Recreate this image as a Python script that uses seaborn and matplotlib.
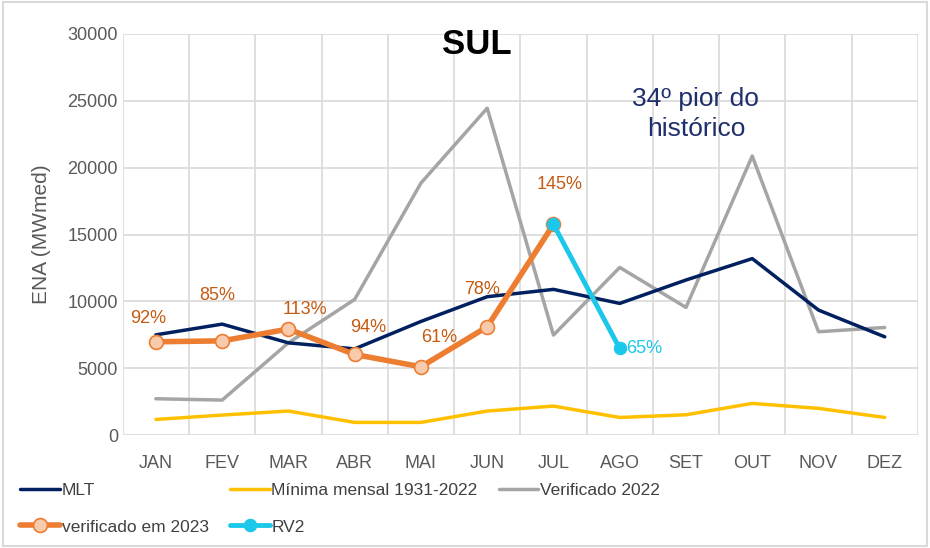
import matplotlib
matplotlib.use("Agg")
import matplotlib.pyplot as plt
import seaborn as sns
from matplotlib.patches import Rectangle

months = ["JAN", "FEV", "MAR", "ABR", "MAI", "JUN", "JUL", "AGO", "SET", "OUT", "NOV", "DEZ"]
mlt = [7500, 8300, 6900, 6450, 8500, 10350, 10900, 9850, 11600, 13200, 9350, 7350]
minima = [1170, 1500, 1800, 950, 950, 1800, 2170, 1320, 1520, 2370, 2000, 1320]
verif_2022 = [2720, 2620, 6900, 10150, 18850, 24450, 7480, 12540, 9550, 20870, 7730, 8050]
verif_2023 = [6980, 7050, 7930, 6030, 5110, 8100, 15760]
rv2_months = ["JUL", "AGO"]
rv2 = [15760, 6480]
pct_2023 = ["92%", "85%", "113%", "94%", "61%", "78%", "145%"]
pct_rv2 = "65%"

sns.set_theme(style="white")
plt.rcParams["font.family"] = ["Liberation Sans", "DejaVu Sans"]

idx = {m: i for i, m in enumerate(months)}
fig = plt.figure(figsize=(9.3, 5.48), dpi=100)
ax = fig.add_axes([0.132, 0.206, 0.855, 0.732])

x_all = list(range(12))
sns.lineplot(x=x_all, y=minima, ax=ax, color="#FFC000", lw=2.5, label="Mínima mensal 1931-2022")
sns.lineplot(x=x_all, y=verif_2022, ax=ax, color="#A5A5A5", lw=2.5, label="Verificado 2022")
sns.lineplot(x=x_all, y=mlt, ax=ax, color="#002060", lw=2.5, label="MLT")
x23 = list(range(len(verif_2023)))
sns.lineplot(x=x23, y=verif_2023, ax=ax, color="#ED7D31", lw=4, marker="o", markersize=10,
             markerfacecolor="#F8CBAD", markeredgecolor="#ED7D31", markeredgewidth=1.2,
             label="verificado em 2023")
xr = [idx[m] for m in rv2_months]
sns.lineplot(x=xr, y=rv2, ax=ax, color="#1CC8EA", lw=3.5, marker="o", markersize=9,
             markeredgecolor="#1CC8EA", label="RV2")

# label offsets (x in categories, y in MWmed) relative to each point
offsets = [(-0.12, 1770), (-0.08, 3400), (0.25, 1500), (0.2, 2000), (0.28, 2200), (-0.08, 2800), (0.1, 2950)]
for i, (t, (dx, dy)) in enumerate(zip(pct_2023, offsets)):
    ax.text(i + dx, verif_2023[i] + dy, t, color="#C55A11", fontsize=13, ha="center", va="center")
ax.text(xr[1] + 0.1, rv2[1], pct_rv2, color="#1CC8EA", fontsize=13, ha="left", va="center")

ax.text(4.85, 29200, "SUL", fontsize=25, fontweight="bold", ha="center", va="center", color="black")
ax.text(8.15, 24000, "34º pior do\nhistórico", fontsize=19, ha="center", va="center",
        color="#1F2F6B", linespacing=1.3)

ax.set_xlim(-0.5, 11.5)
ax.set_ylim(0, 30000)
ax.set_yticks(range(0, 30001, 5000))
ax.set_xticks(x_all)
ax.set_xticklabels(months)
ax.set_xticks([i - 0.5 for i in range(13)], minor=True)
ax.grid(False)
ax.grid(True, axis="y", which="major", color="#D9D9D9", lw=1.2)
ax.grid(True, axis="x", which="minor", color="#D9D9D9", lw=1.2)
ax.tick_params(axis="both", which="both", length=0, labelsize=13, colors="#595959")
ax.tick_params(axis="x", pad=14)
for s in ax.spines.values():
    s.set_visible(False)
ax.set_ylabel("ENA (MWmed)", fontsize=15, color="#595959", labelpad=12)
ax.set_xlabel("")

handles, labels = ax.get_legend_handles_labels()
ax.get_legend().remove()
hmap = dict(zip(labels, handles))
order = ["MLT", "verificado em 2023", "Mínima mensal 1931-2022", "RV2", "Verificado 2022"]
fig.legend([hmap[k] for k in order], order, loc="upper left", bbox_to_anchor=(0.005, 0.148),
           ncol=3, frameon=False, fontsize=12.5, handlelength=2.3, handletextpad=0.1,
           columnspacing=1.2, labelspacing=1.25, labelcolor="#404040")

fig.patches.append(Rectangle((0.003, 0.003), 0.994, 0.994, transform=fig.transFigure,
                             fill=False, edgecolor="#D9D9D9", lw=1.5))
fig.savefig("out.png", dpi=100)
